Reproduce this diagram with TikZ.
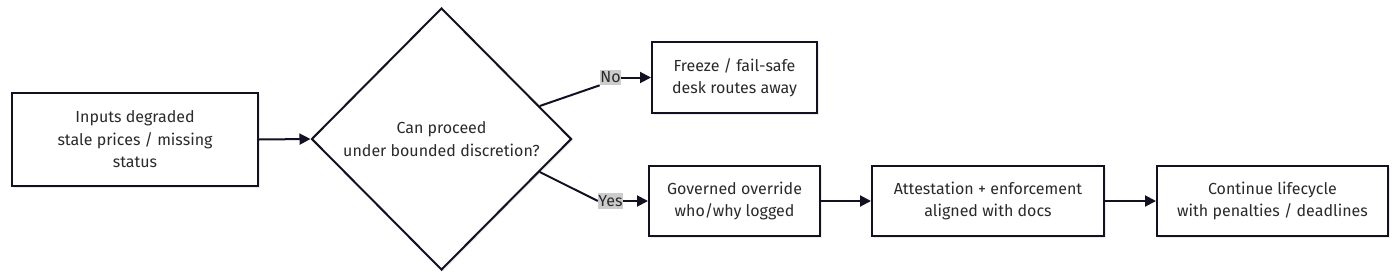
\documentclass[tikz,border=0pt]{standalone}
\usepackage{fontspec}
\setmainfont{Fira Sans}[Scale=1]
\usetikzlibrary{shapes.geometric,arrows.meta,shadows,calc}
\definecolor{edge}{HTML}{111122}
\definecolor{txt}{HTML}{2A2A2A}
\definecolor{lbl}{HTML}{CCCCCC}
\tikzset{
  box/.style={draw=edge, line width=2pt, fill=white, align=center, text=txt,
    font=\fontsize{16}{22.5}\selectfont, inner sep=0pt,
    drop shadow={shadow xshift=1.5pt, shadow yshift=-1.5pt, fill=black, opacity=0.08}},
  dia/.style={draw=edge, line width=2pt, fill=white, align=center, text=txt,
    font=\fontsize{16}{22.5}\selectfont, shape=diamond, aspect=1, inner sep=0pt,
    drop shadow={shadow xshift=1.5pt, shadow yshift=-1.5pt, fill=black, opacity=0.08}},
  lab/.style={fill=lbl, text=txt, font=\fontsize{16}{18}\selectfont, inner xsep=0.5pt, inner ysep=2pt},
  conn/.style={draw=edge, line width=2pt},
  arr/.style={conn, -{Triangle[length=11pt,width=11pt]}}
}
\begin{document}
\begin{tikzpicture}[x=1pt,y=-1pt]
\useasboundingbox (0,0) rectangle (1400,279);
\node[box, minimum width=246pt, minimum height=93pt] (in) at (135,139.5) {Inputs degraded\\stale prices / missing\\status};
\node[dia, minimum width=260pt, minimum height=262pt] (d) at (441.5,139) {Can proceed\\under bounded discretion?};
\node[box, minimum width=165pt, minimum height=71pt] (fr) at (734.5,77.5) {Freeze / fail-safe\\desk routes away};
\node[box, minimum width=171pt, minimum height=70pt] (gov) at (734.5,201) {Governed override\\who/why logged};
\node[box, minimum width=232pt, minimum height=70pt] (att) at (988,201) {Attestation + enforcement\\aligned with docs};
\node[box, minimum width=231pt, minimum height=70pt] (cont) at (1272.5,201) {Continue lifecycle\\with penalties / deadlines};
\node[lab] (no) at (610.5,77.5) {No};
\node[lab] (yes) at (610.5,201) {Yes};
\coordinate (dno) at ($(d.north)!0.75!(d.east)$);
\coordinate (dyes) at ($(d.south)!0.75!(d.east)$);
\draw[arr] (in.east) -- (d.west);
\draw[conn] (dno) -- (no.south west);
\draw[arr] (no.east) -- (fr.west);
\draw[conn] (dyes) -- (yes.west);
\draw[arr] (yes.east) -- (gov.west);
\draw[arr] (gov.east) -- (att.west);
\draw[arr] (att.east) -- (cont.west);
\end{tikzpicture}
\end{document}
